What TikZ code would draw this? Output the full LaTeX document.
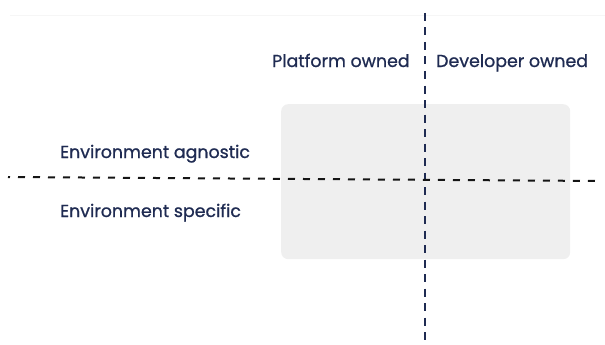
\documentclass[tikz,border=0pt]{standalone}
\usepackage{fontspec}
\setmainfont{Poppins}[FakeBold=0.9]
\begin{document}
\begin{tikzpicture}[x=1pt,y=-1pt,
  lbl/.style={text=navy,font=\fontsize{17.4}{20}\selectfont,inner sep=0pt,anchor=base west},
  cellbox/.style={fill=boxgray,rounded corners=7pt},
  vsplit/.style={draw=navy,line width=2pt,dash pattern=on 8pt off 6.5pt},
  hsplit/.style={draw=ink,line width=2pt,dash pattern=on 7pt off 8pt,dash phase=5pt}]
\definecolor{navy}{HTML}{1F2B52}
\definecolor{ink}{HTML}{151515}
\definecolor{boxgray}{HTML}{EFEFEF}
\definecolor{faint}{HTML}{F6F6F6}
\useasboundingbox (0,0) rectangle (605,345);
% faint rule along the top
\coordinate (ruleL) at (10,15);
\coordinate (ruleR) at (605,15);
\draw[faint,line width=0.6pt] (ruleL) -- (ruleR);
% shaded quadrant area
\node[cellbox,minimum width=289pt,minimum height=155pt,anchor=north west,inner sep=0pt] (area) at (281,104) {};
% axis end points
\coordinate (vtop) at (425,13);
\coordinate (vbot) at (425,345);
\coordinate (hleft) at (8,177);
\coordinate (hright) at (600,181);
\draw[vsplit] (vtop) -- (vbot);
\draw[hsplit] (hleft) -- (hright);
% axis labels
\node[lbl] (platform) at (272,67) {Platform owned};
\node[lbl] (developer) at (436,67) {Developer owned};
\node[lbl] (agnostic) at (60,158) {Environment agnostic};
\node[lbl] (specific) at (60,217) {Environment specific};
\end{tikzpicture}
\end{document}
